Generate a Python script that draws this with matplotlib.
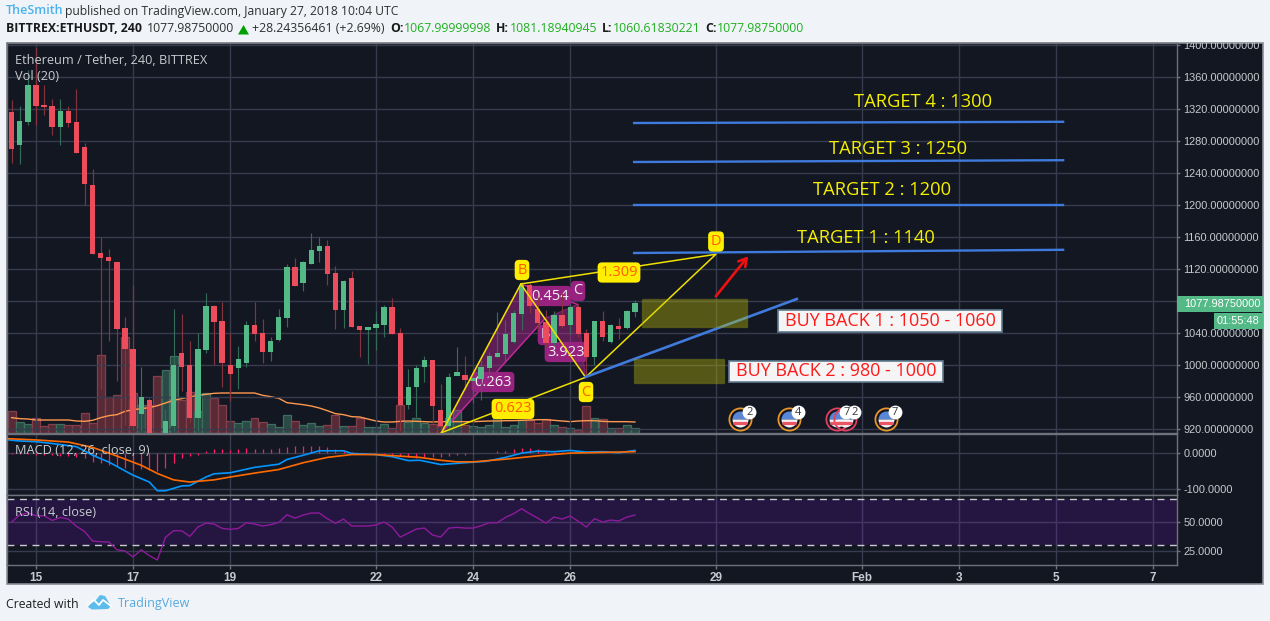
import numpy as np
from matplotlib import pyplot as plt
from matplotlib.patches import Rectangle, Polygon
from matplotlib.transforms import Affine2D, Bbox, offset_copy

W, H = 1270, 621

# candles, 4h each, index 0 = first candle of Jan 15, first one is index -3
opens = [1316.25, 1275, 1303.75, 1350, 1325, 1323.75, 1297.5, 1317.5, 1303.75, 1272.5, 1225, 1140, 1135, 1128.75, 1046.25,
         1020, 938.75, 956, 913, 915, 923.75, 1015, 1000, 933.75, 1018.75, 1073.75, 1055, 1000, 996.25, 1002.5,
         1050, 1040, 1016.25, 1031.25, 1058.75, 1122.5, 1102.5, 1126.25, 1142.5, 1148.75, 1115, 1068.75, 1108.75, 1048.75, 1043.75,
         1046, 1050, 1072.5, 1040, 950, 972.5, 997.5, 1006.25, 943.75, 923.75, 986, 987.5, 980, 982.5, 996,
         1010, 1013.75, 1028.75, 1063.75, 1100, 1070, 1053.75, 1027.5, 1062.5, 1050, 1072.5, 1040, 1010, 1055, 1028.75,
         1048.75, 1046.25, 1066.25]
highs = [1331, 1323.75, 1368.75, 1396, 1350, 1332.5, 1332.5, 1323.75, 1345, 1277.5, 1245, 1160, 1145, 1130, 1060,
         1100, 997.5, 959, 914, 945, 1070, 1063.75, 1030, 1039.6, 1090, 1075, 1078.75, 1039.6, 1023.75, 1055,
         1079, 1057.5, 1035, 1070, 1126.25, 1133.75, 1130, 1165, 1160, 1156.25, 1123.75, 1106.25, 1117.5, 1048.75, 1047.5,
         1067.5, 1075, 1083.75, 1046.25, 995, 1000, 1011, 1006.25, 976, 990, 1022.5, 1011, 990, 1006, 1016.7,
         1066.7, 1056, 1068.75, 1104, 1102, 1085, 1068.75, 1067.5, 1089.6, 1076, 1076, 1045, 1055, 1067.5, 1051,
         1058.75, 1068.5, 1081.19]
lows = [1252.5, 1251, 1300, 1300, 1312.5, 1287.5, 1275, 1297.5, 1265, 1200, 1138.75, 970, 1030, 980, 925,
        918.75, 918, 915, 900, 913, 918, 967.5, 929, 918, 1015, 1000, 972.5, 955, 970, 997.5,
        1030, 1002.5, 1005, 1030, 1047.5, 1098.75, 1092.5, 1126.25, 1128.75, 1100, 1045, 1046.25, 1047.5, 1010, 1001.25,
        1018.75, 1035, 1038.75, 918, 945, 935, 978.75, 927, 918, 918, 987, 968.75, 952, 956, 985,
        1010, 1005, 1027, 1043.75, 1064.6, 1043.75, 1023, 1025, 1045.8, 1038.75, 1035.4, 985, 1000, 1030, 1027,
        1032.5, 1045.5, 1060.62]
closes = [1270, 1305, 1350, 1323.75, 1322.5, 1297.5, 1317.5, 1302.5, 1265, 1226.25, 1138.75, 1133.75, 1130, 1045, 1020,
          923.75, 960, 915, 905, 930, 1000, 997.5, 933.75, 1020, 1073.75, 1053.75, 1002.5, 988.75, 1007.5, 1050,
          1038.75, 1016.25, 1030, 1060, 1122.5, 1098.75, 1128.75, 1143.75, 1148.75, 1113.75, 1068.75, 1105, 1047.5, 1043.75, 1047.5,
          1051, 1072.5, 1038.75, 950, 972.5, 996, 1006.25, 948.75, 923.75, 985, 991, 981, 983.75, 997.5, 1011,
          1015, 1038.75, 1065, 1100, 1073.75, 1052.5, 1027.5, 1062.5, 1048.75, 1072.5, 1038.75, 1010, 1055, 1035, 1050,
          1045, 1067.5, 1077.98]

volumes = [66, 34, 28, 45, 22, 28, 28, 25, 25, 61, 31, 235, 109, 115, 289,
           121, 85, 85, 172, 190, 232, 100, 124, 67, 121, 106, 85, 37, 31, 37,
           46, 34, 28, 19, 55, 37, 25, 31, 22, 25, 55, 22, 22, 46, 19,
           19, 28, 16, 85, 34, 46, 31, 28, 22, 45, 70, 25, 22, 19, 25,
           64, 19, 25, 40, 40, 31, 43, 25, 19, 16, 10, 82, 46, 43, 16,
           16, 25, 16]
vol_ma = [46, 43, 42, 39, 39, 39, 39, 39, 36, 35, 38, 46, 52, 55, 65,
          70, 73, 76, 82, 90, 98, 103, 108, 113, 116, 119, 120, 120, 120, 120,
          120, 113, 109, 104, 91, 88, 85, 81, 75, 67, 58, 55, 49, 48, 42,
          36, 33, 33, 35, 36, 35, 34, 33, 34, 34, 34, 34, 34, 35, 36,
          36, 37, 37, 38, 39, 40, 40, 38, 36, 34, 36, 37, 37, 35, 34,
          34, 34, 33]

macd_x = [-4, -2, 0, 2, 5, 7, 9, 12, 14, 15, 16, 18, 19, 21, 22, 24, 27, 30, 31, 33, 35, 38, 39, 42, 44, 46, 47.4,
          50, 53, 55.6, 58, 60, 62, 64, 66, 68, 70, 72, 74]
macd_line = [39.5, 35, 33, 28, 19, -5, -24, -61, -80, -104.5, -104.5, -91, -90, -66, -57, -54, -39, -30, -17, -5, 7.5, 7.5, 0, -3, -9, -20, -19,
             -31, -26, -22, -11, 1, 6.6, 5, 8.5, 4, 5, 2, 8.5]
signal_x = [-4, 0, 4, 7, 9.5, 13, 15, 17, 19, 22, 24, 27, 30, 33, 36, 39, 42, 47.4, 50, 52, 54, 58, 62, 66, 70, 74]
signal_line = [42, 38, 32, 17, -3, -33, -56, -74, -80, -74, -66, -55, -45, -26, -11, -3, -3, -11, -19, -23.5, -23.5, -16, -6.6, 1, 3, 5]
macd_hist = [-1, -2, -2, -3, -4, -5, -6, -8, -9, -13, -23, -28, -33, -36, -42,
             -45, -43, -47, -49, -42, -28, -14, -7, -3, 6, 12, 12, 9, 13, 15,
             13, 12, 13, 15, 17, 21, 21, 21, 21, 17, 12, 9, 3, 0, 0,
             0, -2, -4, -8, -10, -12, -10, -10, -11, -8, -5, -3, -1, 0, 2,
             6, 6, 12, 15, 15, 12, 7, 5, 5, 4, 2, 1, 0, 0, 0,
             0, 0, 0]
rsi = [50, 56.3, 57.8, 55.5, 55.5, 51.4, 54, 52.6, 46.3, 41.9, 33.6, 33, 32.8, 26.1, 25,
       19.8, 26.1, 21, 17.2, 36.8, 42.5, 42.5, 37.6, 45.7, 49.1, 48.3, 44.5, 43.7, 44.5, 49.4,
       48.3, 46.6, 47.7, 49.7, 56.3, 53.4, 56, 57.8, 57.8, 52.9, 48.9, 52.6, 46.6, 46.6, 46.6,
       47.4, 50, 45.7, 37, 40.5, 44, 44.8, 38.8, 37, 44.8, 45.4, 44.8, 44.8, 46.8, 49.4,
       49.4, 54, 57.2, 61.5, 57.2, 53.4, 49.1, 54.3, 52.6, 55.2, 50.6, 45.7, 52.9, 50, 51.7,
       50.9, 54.3, 56]

# drawings on the chart
target_x = [73.9, 126.9]
target_levels = [[1140, 1144], [1200.6, 1200.6], [1253.75, 1256], [1302.5, 1304]]
support_x = [67.9, 94]
support_y = [985, 1082.5]
xabcd_x = [50.1, 59.9, 62.9, 66.9, 67.9]
xabcd_y = [915.4, 1101.25, 1058.3, 1075.8, 984.6]
point_d = (84, 1138.4)
zone_1 = (74.9, 87.9, 1048, 1082)
zone_2 = (73.9, 85, 978, 1007)
arrow_x = [84, 88]
arrow_y = [1086, 1136]
event_x = [87, 93, 99, 100, 105]
event_n = ['2', '4', '7', '2', '7']
event_ring = ['#e8952a', '#e8952a', '#e0405f', '#e0405f', '#e8952a']
event_price = 932.5

price_ticks = list(range(920, 1401, 40))
day_ticks = [0, 12, 24, 42, 54, 66, 84, 102, 114, 126, 138]
day_labels = ['15', '17', '19', '22', '24', '26', '29', 'Feb', '3', '5', '7']

BG = '#f0f4f8'
DARK = '#131722'
GRID = '#363c4e'
BORDER = '#6f727b'
LABEL = '#c5cbce'
GREEN = '#53b987'
RED = '#eb4d5c'

plt.rcParams['font.family'] = ['Open Sans', 'DejaVu Sans']

fig = plt.figure(figsize=(W / 100, H / 100), dpi=100, facecolor=BG)
px = Affine2D().scale(1, -1).translate(0, H)  # reference pixels, y going down


def pane(top, bottom, left=7, right=1177):
    return fig.add_axes([left / W, 1 - bottom / H, (right - left) / W, (bottom - top) / H])


def style(ax):
    ax.set_xlim(-3.58, 140.97)
    ax.set_facecolor(DARK)
    ax.grid(True, color=GRID, lw=1.0)
    ax.set_axisbelow(True)
    ax.set_xticks(day_ticks)
    ax.yaxis.tick_right()
    ax.tick_params(axis='y', length=2.2, width=1, color=BORDER, labelcolor=LABEL, pad=2.5)
    ax.tick_params(axis='x', length=0, labelbottom=False)
    for s in ax.spines.values():
        s.set_color(BORDER)
        s.set_linewidth(1.0)


def yticklabels(ax, ticks, labels, top, bottom):
    ax.set_yticks(ticks)
    ax.set_yticklabels(labels, family='Liberation Sans', fontsize=7.9)
    # labels get cut at the pane border, as on the site
    box = Bbox([[1177, H - bottom], [1263, H - top]])
    for t in ax.yaxis.get_major_ticks():
        t.label2.set_clip_on(True)
        t.label2.set_clip_box(box)


fig.patches.append(Rectangle((6.5, 43), 1256.5, 541, transform=px, fc=DARK, ec='#8a8d94', lw=1.2, zorder=-1, figure=fig))

idx = np.arange(-3, 75)
o, hi, lo, cl = map(np.array, (opens, highs, lows, closes))
up = cl >= o

# volume sits behind the candles on its own scale
ax_vol = pane(43, 433)
ax_vol.set_xlim(-3.58, 140.97)
ax_vol.set_ylim(0, 1170)
ax_vol.set_facecolor(DARK)
ax_vol.set_xticks([])
ax_vol.set_yticks([])
ax_vol.bar(idx, volumes, width=0.98, color=np.where(up, '#2a4a45', '#582a36'),
           edgecolor=np.where(up, '#3f6e5f', '#83404c'), lw=0.9)
ax_vol.plot(idx, vol_ma, color='#ff9850', lw=1.0)

ax = pane(43, 433)
ax.set_zorder(2)
style(ax)
ax.patch.set_visible(False)
ax.set_ylim(915, 1402.5)
# the 1080 label lies under the green price label
yticklabels(ax, price_ticks, ['' if p == 1080 else '%.8f' % p for p in price_ticks], 43, 433)

# purple harmonic pattern, under the candles
HARM = '#c2289a'
ax.add_patch(Polygon(list(zip(xabcd_x[:3], xabcd_y[:3])), fc=HARM, alpha=0.42, ec=HARM, lw=1, zorder=1.5))
ax.add_patch(Polygon(list(zip(xabcd_x[2:], xabcd_y[2:])), fc=HARM, alpha=0.42, ec=HARM, lw=1, zorder=1.5))
ax.plot([xabcd_x[1], xabcd_x[3]], [xabcd_y[1], xabcd_y[3]], color=HARM, lw=1, zorder=1.5)
ax.plot([xabcd_x[0], xabcd_x[2]], [xabcd_y[0], xabcd_y[2]], color=HARM, lw=1, zorder=1.5)


def tag(x, y, s, fg, bg, z, size=10.5):
    ax.text(x, y, s, transform=px, color=fg, fontsize=size, ha='center', va='center', zorder=z, clip_on=False,
            bbox=dict(boxstyle='round,pad=0.18,rounding_size=0.3', fc=bg, ec='none'))


PURPLE = '#98227f'
tag(493, 382, '0.263', '#f2f2f2', PURPLE, 2)
tag(550, 296, '0.454', '#f2f2f2', PURPLE, 2)
tag(566, 352, '3.923', '#f2f2f2', PURPLE, 2)
tag(578, 291, 'C', '#f2f2f2', PURPLE, 2)
tag(545, 335, 'B', '#f2f2f2', PURPLE, 2)

# candles
ax.vlines(idx, lo, hi, colors=np.where(up, '#336b57', '#85333f'), lw=0.85, zorder=3)
ax.bar(idx, cl - o, bottom=o, width=0.66, color=np.where(up, GREEN, RED), lw=0, zorder=3.1)

# drawings over the candles
YELLOW = '#efe000'
ax.plot([xabcd_x[0], xabcd_x[1], xabcd_x[4], point_d[0], xabcd_x[1]],
        [xabcd_y[0], xabcd_y[1], xabcd_y[4], point_d[1], xabcd_y[1]], color=YELLOW, lw=1.1, zorder=4)
ax.plot([xabcd_x[0], xabcd_x[4]], [xabcd_y[0], xabcd_y[4]], color=YELLOW, lw=1.1, zorder=4)
for level in target_levels:
    ax.plot(target_x, level, color='#3f7bdc', lw=1.7, zorder=4)
ax.plot(support_x, support_y, color='#3f7bdc', lw=1.9, zorder=4)
for x0, x1, y0, y1 in (zone_1, zone_2):
    ax.add_patch(Rectangle((x0, y0), x1 - x0, y1 - y0, fc='#c9c900', alpha=0.36, ec='#8e8e20', lw=1, zorder=4.2))
ax.annotate('', (arrow_x[1], arrow_y[1]), (arrow_x[0], arrow_y[0]), zorder=5,
            arrowprops=dict(arrowstyle='->,head_length=0.55,head_width=0.32', color='#f01010', lw=1.9, shrinkA=0, shrinkB=0))

ORANGE = '#ff5a00'
tag(522, 270, 'B', ORANGE, '#ffee00', 5)
tag(513, 409, '0.623', ORANGE, '#ffee00', 5)
tag(586, 392, 'C', ORANGE, '#ffee00', 5)
tag(619, 272.5, '1.309', ORANGE, '#ffee00', 5)
tag(716, 241.5, 'D', ORANGE, '#ffee00', 5)

for s, x, y in (('TARGET 4 : 1300', 923, 102), ('TARGET 3 : 1250', 898, 149),
                ('TARGET 2 : 1200', 882, 190), ('TARGET 1 : 1140', 866, 238)):
    ax.text(x, y, s, transform=px, color='#f5f000', fontsize=13.2, ha='center', va='center', zorder=5)

for s, x0, x1, y0, y1 in (('BUY BACK 1 : 1050 - 1060', 778, 1002, 310, 332),
                          ('BUY BACK 2 : 980 - 1000', 729, 943, 361, 382)):
    ax.add_patch(Rectangle((x0, y0), x1 - x0, y1 - y0, transform=px, fc='#f5f5f5', ec='#5f7b90', lw=1.2, zorder=5))
    ax.text((x0 + x1) / 2, (y0 + y1) / 2, s, transform=px, color='#ff1a1a', fontsize=13, ha='center', va='center', zorder=6)

# economic events
for x, n, ring in zip(event_x, event_n, event_ring):
    ax.plot(x, event_price, 'o', ms=16, mfc='none', mec=ring, mew=1.3, zorder=6, clip_on=False)
    ax.plot(x, event_price, 'o', ms=11.5, fillstyle='top', markerfacecolor='#5a86d8', markerfacecoloralt='#f2f2f2', mew=0, zorder=6, clip_on=False)
    low = offset_copy(ax.transData, fig, x=0, y=-3.2, units='points')
    ax.plot(x, event_price, '_', ms=9.5, mew=2.3, color='#ec5565', transform=low, zorder=6.1, clip_on=False)
    badge = offset_copy(ax.transData, fig, x=6.5, y=5, units='points')
    ax.plot(x, event_price, 'o', ms=10, mfc='white', mew=0, transform=badge, zorder=6.2, clip_on=False)
    ax.text(x, event_price, n, transform=badge, color='#333333', fontsize=8, ha='center', va='center', zorder=6.3)

ax.text(15, 60, 'Ethereum / Tether, 240, BITTREX', transform=px, color=LABEL, fontsize=9.15, va='center', zorder=7)
ax.text(15, 77, 'Vol (20)', transform=px, color=LABEL, fontsize=9.15, va='center', zorder=7)

# MACD
ax_m = pane(433.5, 494.5)
ax_m.set_zorder(1)
style(ax_m)
ax_m.set_ylim(-115, 56)
yticklabels(ax_m, [0, -100], ['0.0000', '-100.0000'], 433, 494)
ax_m.vlines(idx, 0, macd_hist, colors='#ff1a6a', lw=0.9, zorder=2)
ax_m.plot(macd_x, macd_line, color='#0496ff', lw=1.2, zorder=3)
ax_m.plot(signal_x, signal_line, color='#ff6a00', lw=1.2, zorder=3)
ax_m.text(15, 451, 'MACD (12, 26, close, 9)', transform=px, color=LABEL, fontsize=9.15, va='center', zorder=7)

# RSI
ax_r = pane(494.5, 565)
ax_r.set_zorder(1)
style(ax_r)
ax_r.set_ylim(12.9, 73.8)
yticklabels(ax_r, [50, 25], ['50.0000', '25.0000'], 494, 565)
ax_r.axhspan(30, 70, color='#9915ff', alpha=0.14, lw=0, zorder=1)
ax_r.axhline(70, color='#c9c9d0', lw=1, dashes=(5, 4), zorder=2)
ax_r.axhline(30, color='#c9c9d0', lw=1, dashes=(5, 4), zorder=2)
ax_r.plot(idx, rsi, color='#8e1a9b', lw=1.0, zorder=3)
ax_r.text(15, 512, 'RSI (14, close)', transform=px, color=LABEL, fontsize=9.15, va='center', zorder=7)
ax_r.tick_params(axis='x', length=3, width=1, color=BORDER, labelcolor=LABEL, labelbottom=True, pad=2)
ax_r.set_xticklabels(day_labels, family='Liberation Sans', fontsize=8.5, fontweight='bold')

# current price labels on the scale
fig.add_artist(Rectangle((1177, 296), 86, 16, transform=px, fc=GREEN, ec='none', zorder=5))
fig.add_artist(Rectangle((1214, 313), 49, 16, transform=px, fc=GREEN, ec='none', zorder=5))
fig.text(1184, 304, '1077.98750000', transform=px, color='white', family='Liberation Sans', fontsize=7.9, va='center', zorder=6)
fig.text(1217, 321, '01:55:48', transform=px, color='white', family='Liberation Sans', fontsize=7.9, va='center', zorder=6)

# header
HEAD = '#2f2f2f'
fig.text(6, 11, 'TheSmith', transform=px, color='#4db2ec', fontsize=9, fontweight='semibold', va='center')
fig.text(65, 11, 'published on TradingView.com, January 27, 2018 10:04 UTC', transform=px, color=HEAD, fontsize=8.75, va='center')
fig.text(6, 29, 'BITTREX:ETHUSDT, 240', transform=px, color='#1a1a1a', fontsize=8.8, fontweight='bold', va='center')
fig.text(147, 29, '1077.98750000', transform=px, color=HEAD, fontsize=8.8, va='center')
fig.add_artist(Polygon([(238, 34.5), (249, 34.5), (243.5, 25)], transform=px, fc='#00a000', ec='none'))
fig.text(252, 29, '+28.24356461 (+2.69%)', transform=px, color=HEAD, fontsize=8.8, va='center')
for lab, x_lab, val, x_val in (('O:', 390, '1067.99999998', 404), ('H:', 496, '1081.18940945', 510),
                               ('L:', 602, '1060.61830221', 613), ('C:', 705, '1077.98750000', 717)):
    fig.text(x_lab, 29, lab, transform=px, color='#1a1a1a', fontsize=8.8, fontweight='bold', va='center')
    fig.text(x_val, 29, val, transform=px, color='#1fb01f', fontsize=8.8, va='center')

# footer with logo
fig.text(6, 604, 'Created with', transform=px, color='#1f1f1f', fontsize=8.8, va='center')
fig.add_artist(Polygon([(88, 607), (92, 601), (96, 600), (100, 595), (105, 596), (108, 601), (111, 606), (108, 609), (92, 609.5)],
                       transform=px, fc='#5cbcea', ec='none'))
fig.add_artist(plt.Line2D([88, 94, 99, 103, 111], [605, 600, 605, 600, 606], transform=px, color='white', lw=1.3))
fig.text(118, 604, 'TradingView', transform=px, color='#55a9e0', fontsize=9, va='center')

fig.savefig('out.png', dpi=100, facecolor=BG)
